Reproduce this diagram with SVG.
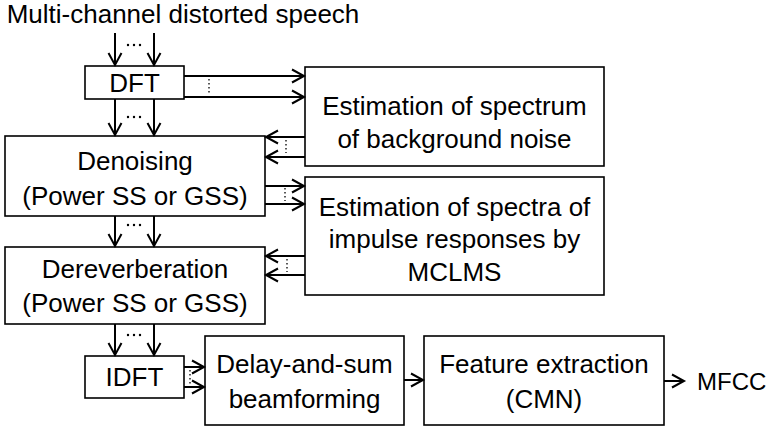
<svg xmlns="http://www.w3.org/2000/svg" width="768" height="430" viewBox="0 0 768 430">
<defs>
<marker id="ah" markerUnits="userSpaceOnUse" markerWidth="20" markerHeight="20" refX="13" refY="8" orient="auto">
<path d="M1,1.5 L13,8 L1,14.5" fill="none" stroke="#000" stroke-width="2"/>
</marker>
<style>
.box{fill:#fff;stroke:#000;stroke-width:1.6}
.t{font-family:"Liberation Sans",Arial,sans-serif;font-size:26px;fill:#000;text-anchor:middle}
.a{stroke:#000;stroke-width:2;fill:none;marker-end:url(#ah)}
.d{stroke:#000;stroke-width:1.3;stroke-dasharray:1.5 2.5;fill:none}
.h{stroke:#000;stroke-width:2.4;stroke-dasharray:0 6;stroke-linecap:round;fill:none}
</style>
</defs>
<rect width="768" height="430" fill="#fff"/>
<text class="t" x="183" y="23">Multi-channel distorted speech</text>
<g id="dft"><rect class="box" x="85" y="66" width="99" height="33"/><text class="t" x="134.5" y="92">DFT</text></g>
<g id="noise"><rect class="box" x="305" y="67" width="299" height="99"/><text class="t" x="454.5" y="115">Estimation of spectrum</text><text class="t" x="454.5" y="148">of background noise</text></g>
<g id="denoise"><rect class="box" x="5" y="136" width="260" height="80"/><text class="t" x="135" y="170">Denoising</text><text class="t" x="135" y="205">(Power SS or GSS)</text></g>
<g id="mclms"><rect class="box" x="305" y="177" width="299" height="118"/><text class="t" x="454.5" y="216">Estimation of spectra of</text><text class="t" x="454.5" y="248">impulse responses by</text><text class="t" x="454.5" y="281">MCLMS</text></g>
<g id="dereverb"><rect class="box" x="5" y="247" width="260" height="77"/><text class="t" x="135" y="278">Dereverberation</text><text class="t" x="135" y="312">(Power SS or GSS)</text></g>
<g id="idft"><rect class="box" x="85" y="356" width="99" height="42"/><text class="t" x="134.5" y="386">IDFT</text></g>
<g id="das"><rect class="box" x="205" y="336" width="199" height="89"/><text class="t" x="304.5" y="373">Delay-and-sum</text><text class="t" x="304.5" y="408">beamforming</text></g>
<g id="feat"><rect class="box" x="424" y="336" width="240" height="89"/><text class="t" x="544" y="373">Feature extraction</text><text class="t" x="544" y="408">(CMN)</text></g>
<g id="mfcc"><text class="t" x="697" y="390" style="text-anchor:start;font-size:24px">MFCC</text></g>
<g id="connectors">
<line class="a" x1="115" y1="33" x2="115" y2="65"/><line class="a" x1="154" y1="33" x2="154" y2="65"/><line class="h" x1="128" y1="45" x2="142" y2="45"/>
<line class="a" x1="184" y1="76" x2="304" y2="76"/><line class="a" x1="184" y1="97" x2="304" y2="97"/><line class="d" x1="209" y1="79" x2="209" y2="93"/>
<line class="a" x1="115" y1="99" x2="115" y2="135"/><line class="a" x1="154" y1="99" x2="154" y2="135"/><line class="h" x1="128" y1="117" x2="142" y2="117"/>
<line class="a" x1="305" y1="137" x2="266" y2="137"/><line class="a" x1="305" y1="157" x2="266" y2="157"/><line class="d" x1="286" y1="140" x2="286" y2="153"/>
<line class="a" x1="265" y1="186" x2="304" y2="186"/><line class="a" x1="265" y1="204" x2="304" y2="204"/><line class="d" x1="285" y1="188" x2="285" y2="201"/>
<line class="a" x1="115" y1="216" x2="115" y2="246"/><line class="a" x1="154" y1="216" x2="154" y2="246"/><line class="h" x1="128" y1="225" x2="142" y2="225"/>
<line class="a" x1="305" y1="256" x2="266" y2="256"/><line class="a" x1="305" y1="275" x2="266" y2="275"/><line class="d" x1="287" y1="259" x2="287" y2="272"/>
<line class="a" x1="115" y1="324" x2="115" y2="355"/><line class="a" x1="154" y1="324" x2="154" y2="355"/><line class="h" x1="128" y1="335" x2="142" y2="335"/>
<line class="a" x1="184" y1="367" x2="204" y2="367"/><line class="a" x1="184" y1="387" x2="204" y2="387"/><line class="d" x1="190" y1="370" x2="190" y2="384"/>
<line class="a" x1="404" y1="380" x2="423" y2="380"/>
<line class="a" x1="664" y1="381" x2="684" y2="381"/>
</g>
</svg>
